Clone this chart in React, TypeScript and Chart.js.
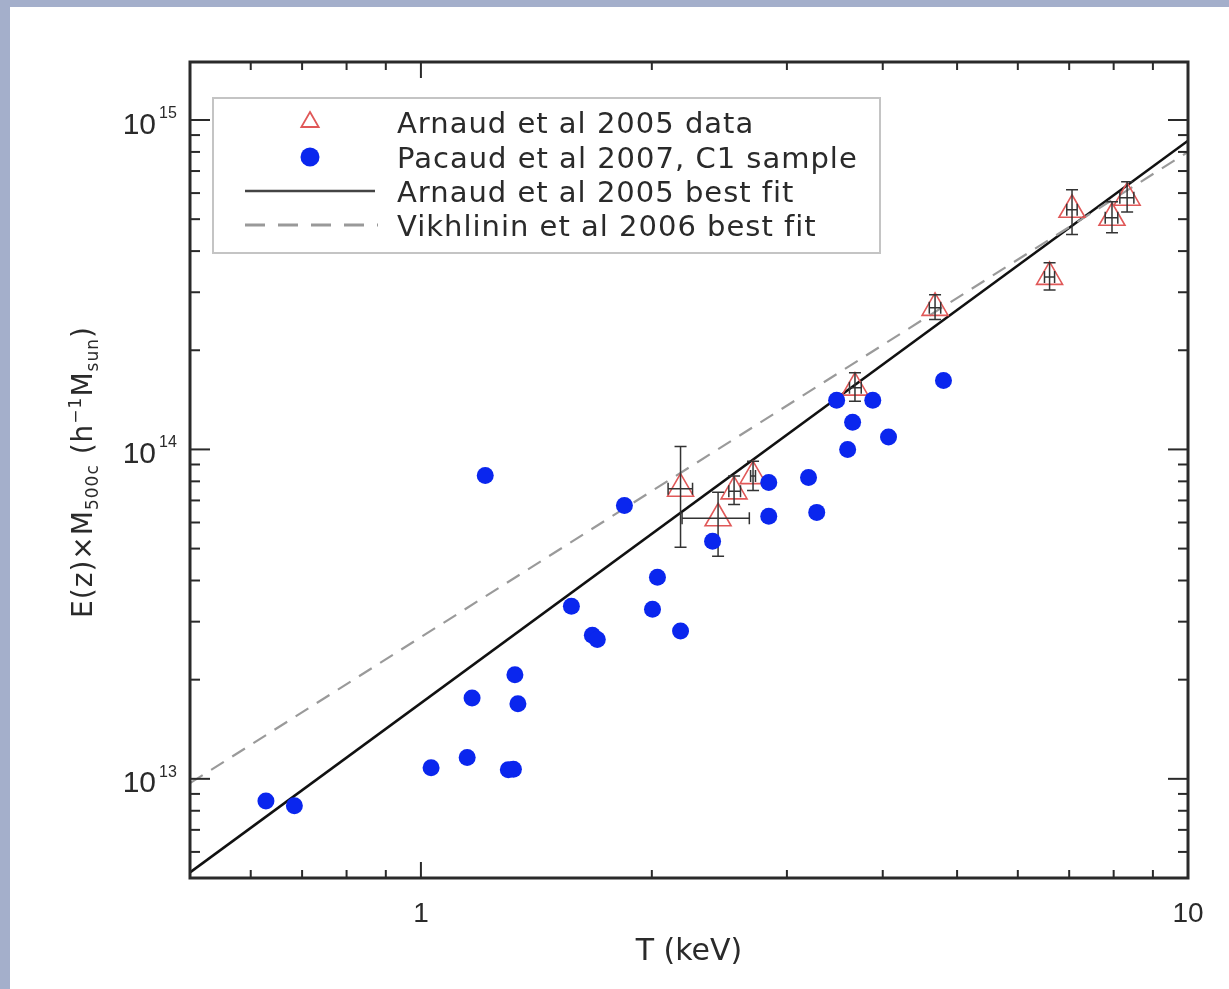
import React, { useEffect, useRef } from "react";
import { Chart, registerables } from "chart.js";

Chart.register(...registerables);

// ---------- data ----------
const pacaudT = [0.628, 0.684, 1.031, 1.149, 1.30, 1.32, 1.166, 1.326, 1.338, 1.213, 1.571, 1.673, 1.698, 1.842, 2.004, 2.034, 2.18, 2.40, 2.841, 2.841, 3.201, 3.281, 3.483, 3.882, 3.654, 3.60, 4.07, 4.80];
const pacaudM = [8.57e12, 8.28e12, 1.08e13, 1.16e13, 1.065e13, 1.07e13, 1.76e13, 2.07e13, 1.69e13, 8.34e13, 3.34e13, 2.73e13, 2.65e13, 6.76e13, 3.27e13, 4.09e13, 2.81e13, 5.26e13, 7.94e13, 6.27e13, 8.22e13, 6.44e13, 1.41e14, 1.41e14, 1.21e14, 1.0e14, 1.09e14, 1.62e14];

const arnaudT = [2.18, 2.44, 2.56, 2.71, 3.68, 4.68, 6.60, 7.06, 7.96, 8.33];
const arnaudTLow = [2.10, 2.19, 2.52, 2.69, 3.62, 4.60, 6.50, 6.95, 7.80, 8.15];
const arnaudTHigh = [2.26, 2.68, 2.61, 2.73, 3.75, 4.76, 6.70, 7.17, 8.10, 8.50];
const arnaudM = [7.6e13, 6.18e13, 7.46e13, 8.3e13, 1.54e14, 2.69e14, 3.34e14, 5.34e14, 5.05e14, 5.81e14];
const arnaudMLow = [5.05e13, 4.74e13, 6.8e13, 7.5e13, 1.40e14, 2.48e14, 3.05e14, 4.49e14, 4.55e14, 5.26e14];
const arnaudMHigh = [1.02e14, 7.41e13, 8.3e13, 9.2e13, 1.71e14, 2.95e14, 3.69e14, 6.14e14, 5.65e14, 6.49e14];

const arnaudFitT = [0.5, 10];
const arnaudFitM = [5.2e12, 8.65e14];
const vikhlininFitT = [0.5, 10];
const vikhlininFitM = [9.7e12, 8.0e14];

const xMajorTicks = [1, 10];
const xTickLabels = ["1", "10"];
const yMajorTicks = [1e13, 1e14, 1e15];
const yTickBase = ["10", "10", "10"];
const yTickExp = ["13", "14", "15"];

const legendLabels = [
  "Arnaud et al 2005 data",
  "Pacaud et al 2007, C1 sample",
  "Arnaud et al 2005 best fit",
  "Vikhlinin et al 2006 best fit",
];

const xTitle = "T (keV)";

// ---------- styles ----------
const W = 1229;
const H = 989;
const BLUE = "#0a26ee";
const RED = "#e05858";
const DARK = "#2a2a2a";
const SANS = "'DejaVu Sans', sans-serif";
const NUM = "'Liberation Sans', Arial, sans-serif";

type Seg = { t: string; size: number; dy: number };

function drawRich(ctx: any, segs: Seg[], x: number, y: number, align: string, family: string, spacing: number) {
  ctx.letterSpacing = spacing + "px";
  const widths: number[] = [];
  let total = 0;
  for (const s of segs) {
    ctx.font = `${s.size}px ${family}`;
    const w = ctx.measureText(s.t).width;
    widths.push(w);
    total += w;
  }
  let cx = align === "center" ? x - total / 2 : align === "right" ? x - total : x;
  ctx.textAlign = "left";
  ctx.textBaseline = "alphabetic";
  segs.forEach((s, i) => {
    ctx.font = `${s.size}px ${family}`;
    ctx.fillText(s.t, cx, y + s.dy);
    cx += widths[i];
  });
  ctx.letterSpacing = "0px";
}

export default function App() {
  const ref = useRef<HTMLCanvasElement>(null);

  useEffect(() => {
    document.body.style.margin = "0";
    document.body.style.overflow = "hidden";
    const canvas = ref.current!;

    const errorBars = {
      id: "errorBars",
      afterDatasetDraw(chart: any, args: any) {
        if (args.index !== 1) return;
        const ctx = chart.ctx;
        const xs = chart.scales.x;
        const ys = chart.scales.y;
        ctx.save();
        ctx.strokeStyle = "#333";
        ctx.lineWidth = 1.5;
        const cap = 6;
        for (let i = 0; i < arnaudT.length; i++) {
          const px = xs.getPixelForValue(arnaudT[i]);
          const py = ys.getPixelForValue(arnaudM[i]);
          const x0 = xs.getPixelForValue(arnaudTLow[i]);
          const x1 = xs.getPixelForValue(arnaudTHigh[i]);
          const y0 = ys.getPixelForValue(arnaudMLow[i]);
          const y1 = ys.getPixelForValue(arnaudMHigh[i]);
          ctx.beginPath();
          ctx.moveTo(px, y0);
          ctx.lineTo(px, y1);
          ctx.moveTo(px - cap, y0);
          ctx.lineTo(px + cap, y0);
          ctx.moveTo(px - cap, y1);
          ctx.lineTo(px + cap, y1);
          ctx.moveTo(x0, py);
          ctx.lineTo(x1, py);
          ctx.moveTo(x0, py - cap);
          ctx.lineTo(x0, py + cap);
          ctx.moveTo(x1, py - cap);
          ctx.lineTo(x1, py + cap);
          ctx.stroke();
        }
        ctx.restore();
      },
    };

    const axesPlugin = {
      id: "idlAxes",
      afterDraw(chart: any) {
        const ctx = chart.ctx;
        const xs = chart.scales.x;
        const ys = chart.scales.y;
        const { left, right, top, bottom } = chart.chartArea;
        ctx.save();

        // ticks (inward on all four sides)
        ctx.strokeStyle = DARK;
        ctx.lineWidth = 2;
        const seg = (a: number, b: number, c: number, d: number) => {
          ctx.beginPath();
          ctx.moveTo(a, b);
          ctx.lineTo(c, d);
          ctx.stroke();
        };
        for (const dec of [0.1, 1]) {
          for (let k = 2; k <= 9; k++) {
            const v = k * dec;
            if (v <= xs.min || v >= xs.max) continue;
            const px = xs.getPixelForValue(v);
            seg(px, bottom, px, bottom - 8);
            seg(px, top, px, top + 8);
          }
        }
        for (const v of xMajorTicks) {
          const px = xs.getPixelForValue(v);
          seg(px, bottom, px, bottom - 16);
          seg(px, top, px, top + 16);
        }
        for (const dec of [1e12, 1e13, 1e14, 1e15]) {
          for (let k = 2; k <= 9; k++) {
            const v = k * dec;
            if (v <= ys.min || v >= ys.max) continue;
            const py = ys.getPixelForValue(v);
            seg(left, py, left + 10, py);
            seg(right, py, right - 10, py);
          }
        }
        for (const v of yMajorTicks) {
          const py = ys.getPixelForValue(v);
          seg(left, py, left + 20, py);
          seg(right, py, right - 20, py);
        }

        // frame
        ctx.lineWidth = 3;
        ctx.strokeRect(left, top, right - left, bottom - top);

        // tick labels
        ctx.fillStyle = DARK;
        ctx.textBaseline = "alphabetic";
        ctx.font = `28px ${NUM}`;
        ctx.textAlign = "center";
        xMajorTicks.forEach((v, i) => {
          ctx.fillText(xTickLabels[i], xs.getPixelForValue(v), bottom + 44);
        });
        yMajorTicks.forEach((v, i) => {
          const py = ys.getPixelForValue(v);
          ctx.textAlign = "left";
          ctx.font = `16px ${NUM}`;
          ctx.fillText(yTickExp[i], left - 31, py - 2);
          ctx.textAlign = "right";
          ctx.font = `30px ${NUM}`;
          ctx.fillText(yTickBase[i], left - 34, py + 13.5);
        });

        // axis titles
        drawRich(ctx, [{ t: xTitle, size: 30, dy: 0 }], (left + right) / 2, 960, "center", SANS, 0);
        ctx.save();
        ctx.translate(92, (top + bottom) / 2 + 2);
        ctx.rotate(-Math.PI / 2);
        drawRich(
          ctx,
          [
            { t: "E(z)×M", size: 28, dy: 0 },
            { t: "500c", size: 17, dy: 6 },
            { t: " (h", size: 28, dy: 0 },
            { t: "−1", size: 17, dy: -11 },
            { t: "M", size: 28, dy: 0 },
            { t: "sun", size: 17, dy: 6 },
            { t: ")", size: 28, dy: 0 },
          ],
          0,
          0,
          "center",
          SANS,
          1
        );
        ctx.restore();

        // legend
        const lx0 = 213, ly0 = 98, lx1 = 880, ly1 = 253;
        ctx.fillStyle = "#ffffff";
        ctx.fillRect(lx0, ly0, lx1 - lx0, ly1 - ly0);
        ctx.strokeStyle = "#c4c4c4";
        ctx.lineWidth = 2;
        ctx.strokeRect(lx0, ly0, lx1 - lx0, ly1 - ly0);
        const rows = [122, 157, 191, 225];
        const symX = 310;
        // triangle
        ctx.strokeStyle = RED;
        ctx.lineWidth = 1.8;
        const r = 10;
        ctx.beginPath();
        ctx.moveTo(symX, rows[0] - r);
        ctx.lineTo(symX + r * 0.866, rows[0] + r / 2);
        ctx.lineTo(symX - r * 0.866, rows[0] + r / 2);
        ctx.closePath();
        ctx.stroke();
        // dot
        ctx.fillStyle = BLUE;
        ctx.beginPath();
        ctx.arc(symX, rows[1], 9.5, 0, Math.PI * 2);
        ctx.fill();
        // solid
        ctx.strokeStyle = "#444";
        ctx.lineWidth = 2.5;
        seg(245, rows[2], 375, rows[2]);
        // dashed
        ctx.strokeStyle = "#999";
        ctx.lineWidth = 3;
        ctx.setLineDash([20, 13]);
        seg(245, rows[3], 378, rows[3]);
        ctx.setLineDash([]);
        ctx.fillStyle = DARK;
        legendLabels.forEach((t, i) => {
          drawRich(ctx, [{ t, size: 29, dy: 0 }], 397, rows[i] + 11, "left", SANS, 1);
        });

        ctx.restore();
      },
    };

    const chart = new Chart(canvas, {
      type: "scatter",
      data: {
        datasets: [
          {
            label: legendLabels[1],
            data: pacaudT.map((t, i) => ({ x: t, y: pacaudM[i] })),
            pointStyle: "circle",
            pointRadius: 8.5,
            backgroundColor: BLUE,
            borderWidth: 0,
            order: 0,
          },
          {
            label: legendLabels[0],
            data: arnaudT.map((t, i) => ({ x: t, y: arnaudM[i] })),
            pointStyle: "triangle",
            pointRadius: 15,
            backgroundColor: "rgba(0,0,0,0)",
            borderColor: RED,
            borderWidth: 1.6,
            order: 1,
          },
          {
            label: legendLabels[2],
            data: arnaudFitT.map((t, i) => ({ x: t, y: arnaudFitM[i] })),
            showLine: true,
            pointRadius: 0,
            borderColor: "#111",
            borderWidth: 2.6,
            order: 3,
          },
          {
            label: legendLabels[3],
            data: vikhlininFitT.map((t, i) => ({ x: t, y: vikhlininFitM[i] })),
            showLine: true,
            pointRadius: 0,
            borderColor: "#9a9a9a",
            borderWidth: 2.2,
            borderDash: [15, 10],
            order: 2,
          },
        ],
      },
      options: {
        responsive: false,
        maintainAspectRatio: false,
        animation: false,
        devicePixelRatio: 1,
        layout: { padding: { left: 190, top: 62, right: 41, bottom: 111 } },
        plugins: {
          legend: { display: false },
          tooltip: { enabled: false },
          title: { display: false },
        },
        scales: {
          x: { type: "logarithmic", min: 0.5, max: 10, display: false },
          y: { type: "logarithmic", min: 5e12, max: 1.5e15, display: false },
        },
      },
      plugins: [errorBars, axesPlugin],
    } as any);

    return () => chart.destroy();
  }, []);

  return (
    <div style={{ position: "relative", width: W, height: H, background: "#a4afcb", overflow: "hidden" }}>
      <div style={{ position: "absolute", left: 10, top: 7, right: 0, bottom: 0, background: "#ffffff" }} />
      <canvas ref={ref} width={W} height={H} style={{ position: "absolute", left: 0, top: 0, width: W, height: H }} />
    </div>
  );
}
